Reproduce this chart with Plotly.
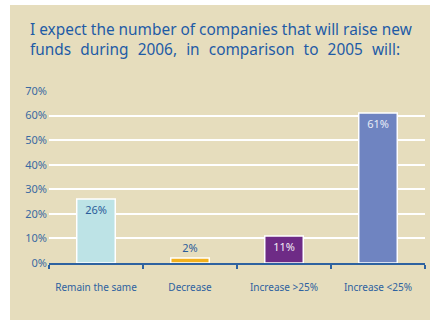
import plotly.graph_objects as go

categories = ["Remain the same", "Decrease", "Increase >25%", "Increase <25%"]
values = [26, 2, 11, 61]
labels = ["26%", "2%", "11%", "61%"]
bar_colors = ["#BDE3E6", "#F2B11E", "#6E2B86", "#6F84C1"]
label_colors = ["#2A5C9A", "#2A5C9A", "#F2ECF5", "#E8ECF6"]
label_positions = ["inside", "outside", "inside", "inside"]
y_ticks = [0, 10, 20, 30, 40, 50, 60, 70]
y_tick_text = ["0%", "10%", "20%", "30%", "40%", "50%", "60%", "70%"]
title_line1 = "I expect the number of companies that will raise new"
title_line2 = "funds during 2006, in comparison to 2005 will:"

W, H = 430, 322
ml, mr, mt, mb = 49, 5, 91, 59
pw, ph = W - ml - mr, H - mt - mb

def px_x(x):
    return (x - ml) / pw

def px_y(y):
    return (H - mb - y) / ph

fig = go.Figure(go.Bar(
    x=categories, y=values, text=labels,
    textposition=label_positions,
    insidetextanchor="end",
    textfont=dict(color=label_colors, size=11, family="Noto Sans"),
    marker=dict(color=bar_colors, line=dict(color="white", width=1.5)),
    width=0.41, cliponaxis=False,
))

fig.add_shape(type="rect", xref="paper", yref="paper",
              x0=px_x(10), x1=px_x(431), y0=px_y(320), y1=px_y(5),
              fillcolor="#E6DDBD", line=dict(width=0), layer="below")

# second line is justified in the original: widen word gaps
line2_justified = title_line2.replace(" ", " \u2004")
fig.add_annotation(text=title_line1 + "<br>" + line2_justified, xref="paper", yref="paper",
                   x=px_x(28), y=px_y(17), xanchor="left", yanchor="top",
                   align="left", showarrow=False,
                   font=dict(size=15.4, color="#1E5BA6", family="Noto Sans"))

fig.update_layout(
    width=W, height=H,
    margin=dict(l=ml, r=mr, t=mt, b=mb),
    paper_bgcolor="white", plot_bgcolor="rgba(0,0,0,0)",
    showlegend=False,
    font=dict(family="Noto Sans", color="#2E62A0"),
    bargap=0.59,
)
fig.update_xaxes(showline=True, linecolor="#2E62A0", linewidth=2,
                 ticks="outside", tickson="boundaries", ticklen=4,
                 tickcolor="#2E62A0", tickwidth=1.5,
                 tickfont=dict(size=10, color="#2E62A0"),
                 ticklabelstandoff=14, showgrid=False)
fig.update_yaxes(range=[0, 70], tickmode="array", tickvals=y_ticks, ticktext=y_tick_text,
                 showgrid=True, gridcolor="white", gridwidth=1.5,
                 zeroline=False, showline=False,
                 tickfont=dict(size=11, color="#3A6AA2"), ticklabelstandoff=1)

fig.write_html("out.html")
